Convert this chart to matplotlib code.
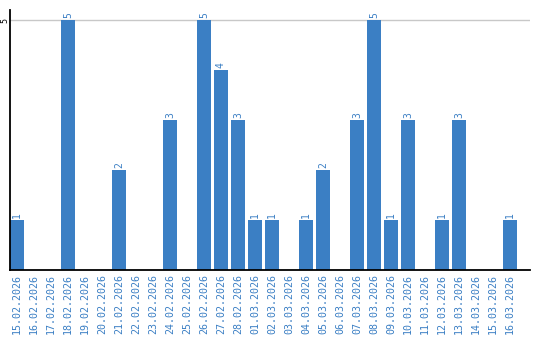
import matplotlib
matplotlib.use("Agg")
import matplotlib.pyplot as plt
from matplotlib.transforms import blended_transform_factory

dates = ["15.02.2026", "16.02.2026", "17.02.2026", "18.02.2026", "19.02.2026",
         "20.02.2026", "21.02.2026", "22.02.2026", "23.02.2026", "24.02.2026",
         "25.02.2026", "26.02.2026", "27.02.2026", "28.02.2026", "01.03.2026",
         "02.03.2026", "03.03.2026", "04.03.2026", "05.03.2026", "06.03.2026",
         "07.03.2026", "08.03.2026", "09.03.2026", "10.03.2026", "11.03.2026",
         "12.03.2026", "13.03.2026", "14.03.2026", "15.03.2026", "16.03.2026"]
counts = [1, 0, 0, 5, 0, 0, 2, 0, 0, 3,
          0, 5, 4, 3, 1, 1, 0, 1, 2, 0,
          3, 5, 1, 3, 0, 1, 3, 0, 0, 1]
yticks = [5]

BLUE = "#3b7fc4"

fig = plt.figure(figsize=(5.4, 3.4), dpi=100)
ax = fig.add_axes([10 / 540, 70 / 340, 520 / 540, 260 / 340])

x = list(range(len(dates)))
ax.bar(x, counts, width=14 / 17, color=BLUE, zorder=2)

for xi, v in zip(x, counts):
    if v > 0:
        ax.annotate(str(v), (xi, v), xytext=(0, 1.5), textcoords="offset points",
                    ha="center", va="bottom", rotation=90, color=BLUE,
                    fontsize=7, family="DejaVu Sans Mono")

ax.set_xlim(-7 / 17, 30.18)
ax.set_ylim(0, 5.2)
ax.set_xticks(x)
ax.set_xticklabels(dates, rotation=90, color=BLUE, fontsize=7.2,
                   family="DejaVu Sans Mono")
ax.set_yticks(yticks)
ax.set_yticklabels([])
# y tick label drawn by hand so it sits inside the narrow left margin
trans = blended_transform_factory(fig.transFigure, ax.transData)
for t in yticks:
    fig.text(5 / 540, t, str(t), transform=trans, rotation=90, ha="center",
             va="center", fontsize=6, family="DejaVu Sans Mono", color="black")
ax.tick_params(axis="both", length=0)
ax.tick_params(axis="x", pad=3)
ax.grid(axis="y", color="#c8c8c8", linewidth=1, zorder=0)

for s in ["top", "right"]:
    ax.spines[s].set_visible(False)
for s in ["left", "bottom"]:
    ax.spines[s].set_linewidth(1.3)
    ax.spines[s].set_color("black")

fig.savefig("out.png", dpi=100)
